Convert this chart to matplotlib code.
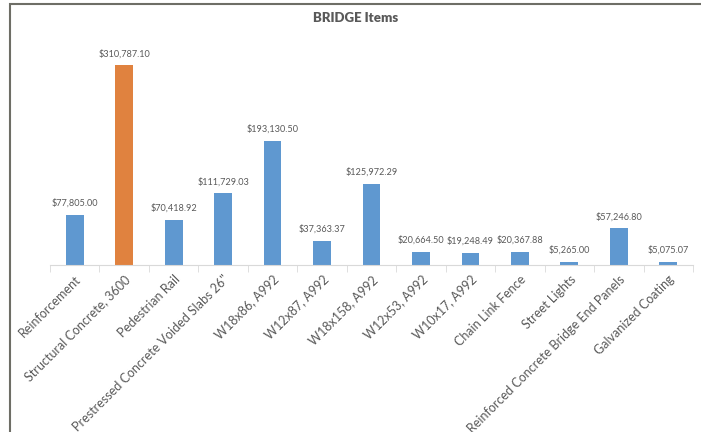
import matplotlib.pyplot as plt
from matplotlib.patches import Rectangle

items = ['Reinforcement', 'Structural Concrete, 3600', 'Pedestrian Rail',
         'Prestressed Concrete Voided Slabs 26"', 'W18x86, A992', 'W12x87, A992',
         'W18x158, A992', 'W12x53, A992', 'W10x17, A992', 'Chain Link Fence',
         'Street Lights', 'Reinforced Concrete Bridge End Panels', 'Galvanized Coating']
costs = [77805.00, 310787.10, 70418.92, 111729.03, 193130.50, 37363.37,
         125972.29, 20664.50, 19248.49, 20367.88, 5265.00, 57246.80, 5075.07]
highlight = 'Structural Concrete, 3600'

plt.rcParams['font.family'] = ['Lato', 'DejaVu Sans']
text_color = '#595959'

fig = plt.figure(figsize=(7.01, 4.32), dpi=100)
ax = fig.add_axes([50 / 701, (432 - 265) / 432, 643 / 701, 225 / 432])

colors = ['#e0823f' if n == highlight else '#5f98d0' for n in items]
x = range(len(items))
bars = ax.bar(x, costs, width=0.36, color=colors)

for b, v in zip(bars, costs):
    ax.annotate(f'${v:,.2f}', (b.get_x() + b.get_width() / 2, v),
                xytext=(0, 5), textcoords='offset points',
                ha='center', va='bottom', fontsize=6.6, color=text_color)

ax.set_xlim(-0.5, len(items) - 0.5)
ax.set_ylim(0, 350000)
ax.set_yticks([])
ax.set_xticks(list(x))
ax.set_xticklabels(items, rotation=45, ha='right', rotation_mode='anchor',
                   fontsize=9, color=text_color)
ax.tick_params(axis='x', length=0, pad=6)
# Excel style tick marks between categories
ax.set_xticks([i - 0.5 for i in range(len(items) + 1)], minor=True)
ax.tick_params(axis='x', which='minor', length=5, color='#d9d9d9')

for s in ['top', 'right', 'left']:
    ax.spines[s].set_visible(False)
ax.spines['bottom'].set_color('#d9d9d9')

fig.text(356 / 701, 1 - 18 / 432, 'BRIDGE Items', ha='center', va='center',
         fontsize=9.5, fontweight='heavy', color=text_color)

# chart border (cut off at right and bottom)
fig.patches.append(Rectangle((10 / 701, -0.1), 1.0, 1 - 4 / 432 + 0.1,
                             transform=fig.transFigure, fill=False,
                             edgecolor='#6e6e66', linewidth=1.5))

fig.savefig('out.png', dpi=100)
